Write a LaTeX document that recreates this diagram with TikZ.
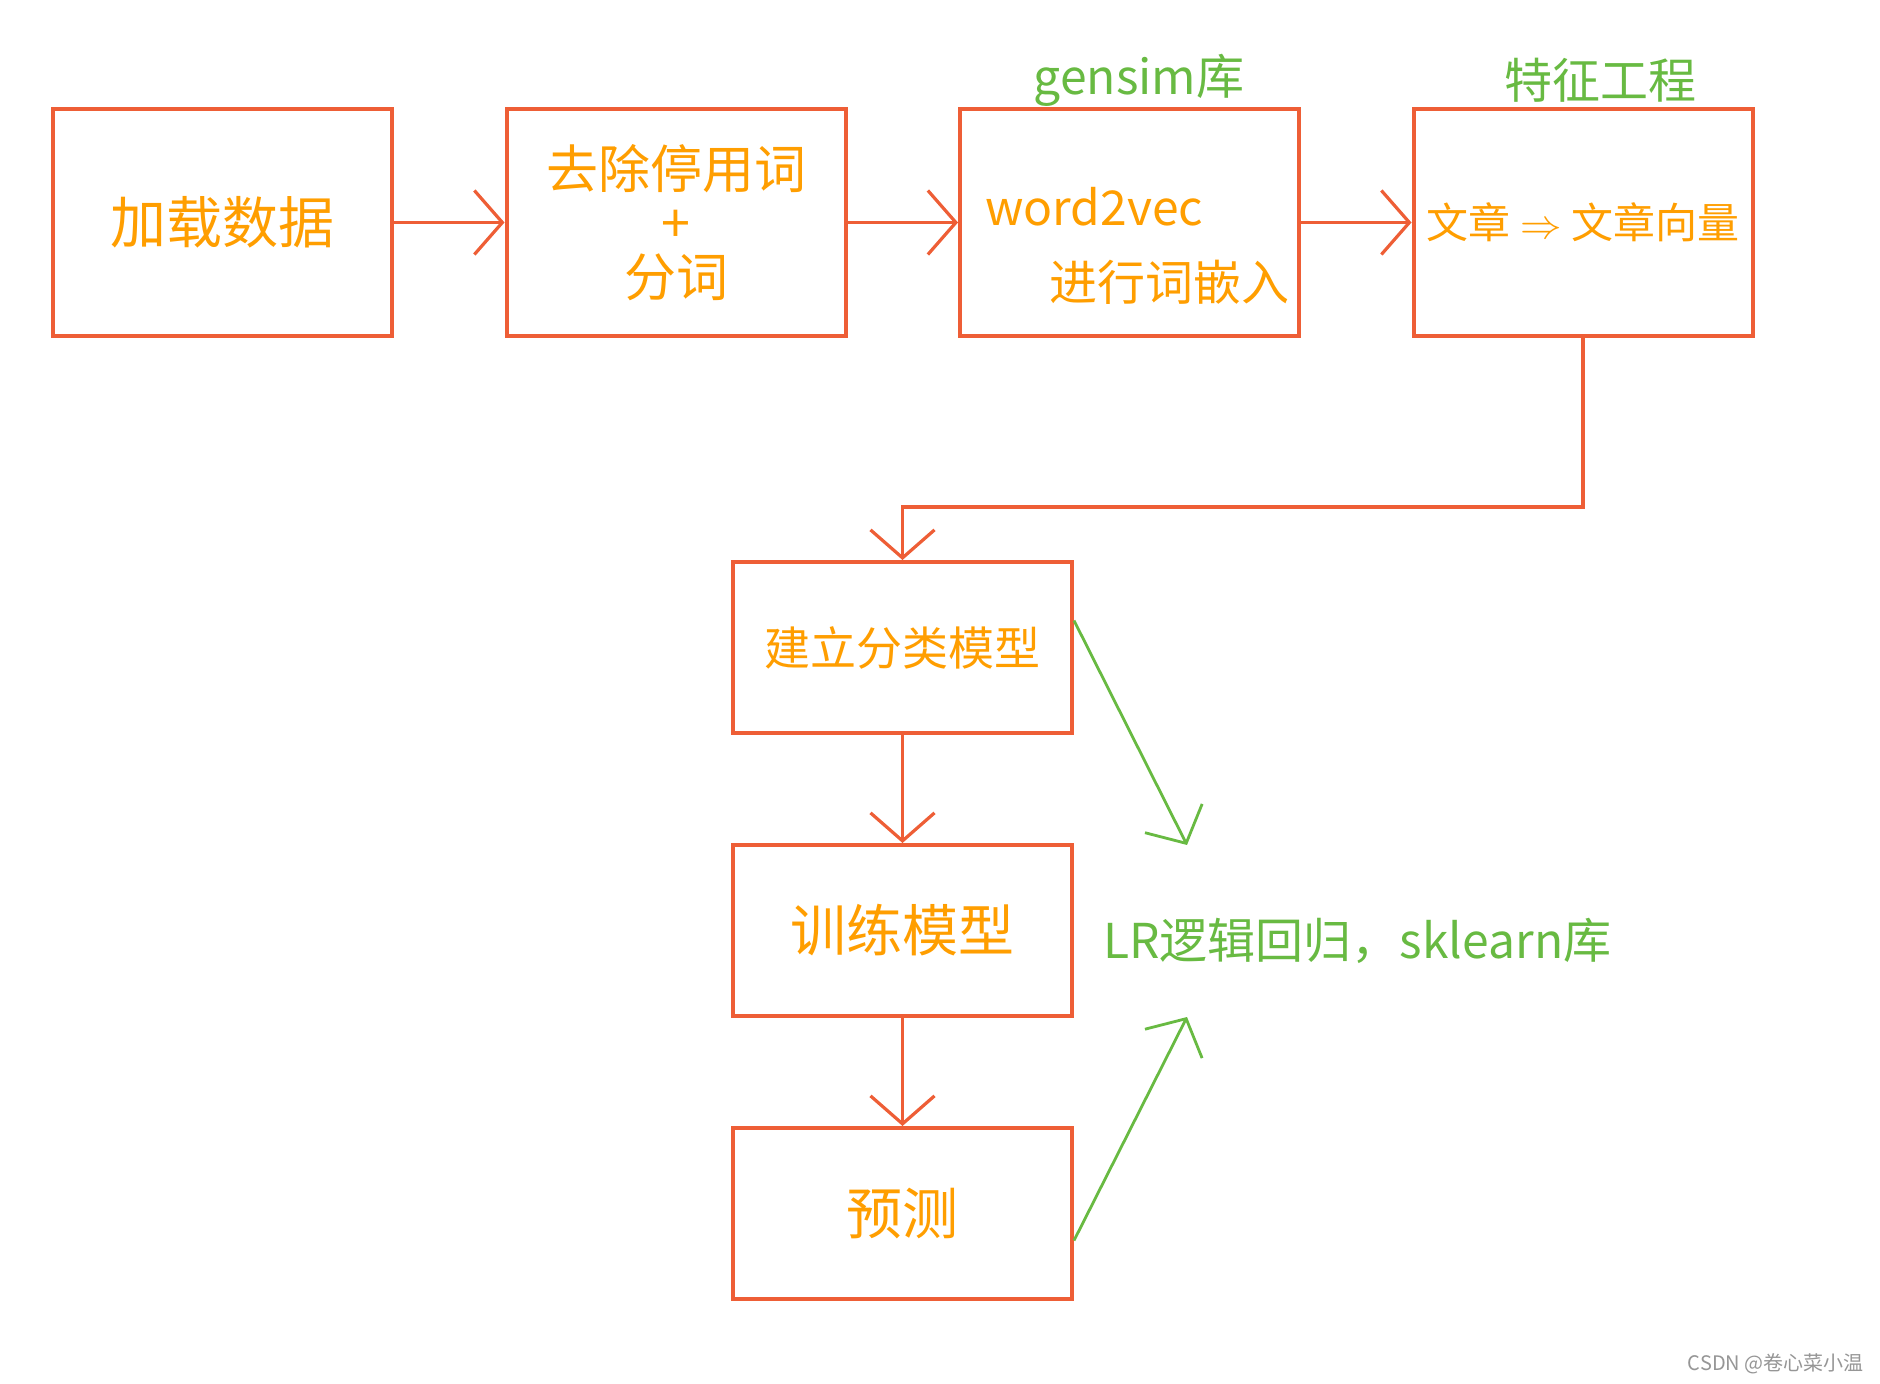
\documentclass[tikz,border=0pt]{standalone}
\usepackage{fontspec}
\newfontfamily\cjk{Noto Sans CJK SC}
\usetikzlibrary{arrows.meta, positioning, calc}
\definecolor{flowred}{RGB}{238, 94, 54}
\definecolor{flowtext}{RGB}{255, 158, 0}
\definecolor{flowgreen}{RGB}{104, 186, 66}
\definecolor{markgray}{RGB}{150, 150, 150}

\begin{document}
\begin{tikzpicture}[
    x=0.5pt, y=-0.5pt,
    topbox/.style={draw=flowred, line width=2pt, fill=white,
                   minimum width=169.5pt, minimum height=113.5pt,
                   inner sep=0pt, align=center, text=flowtext,
                   font=\cjk\fontsize{26}{27}\selectfont},
    lowbox/.style={topbox, minimum height=85.5pt},
    inbox/.style={text=flowtext, inner sep=0pt,
                  font=\cjk\fontsize{24}{28}\selectfont},
    note/.style={text=flowgreen, inner sep=0pt,
                 font=\cjk\fontsize{24}{28}\selectfont},
    arr/.style={-{Straight Barb[length=14pt, width=32pt]},
                draw=flowred, line width=1.6pt},
    garr/.style={-{Straight Barb[length=14pt, width=32pt]},
                 draw=flowgreen, line width=1.4pt},
  ]
    \fill[white] (0,0) rectangle (1880,1384);
    \useasboundingbox (0,0) rectangle (1880,1384);

    % Top row
    \node[topbox, font=\cjk\fontsize{28}{30}\selectfont] (load) at (222.5, 222.5) {加载数据};
    \node[topbox] (clean) at (676, 222.5) {去除停用词\\+\\分词};
    \node[topbox] (embed) at (1129.5, 222.5) {};
    \node[topbox, font=\cjk\fontsize{21}{24}\selectfont] (feat) at (1583, 222.5)
      {文章 $\Rightarrow$ 文章向量};
    \node[inbox, anchor=west] (w2v) at (985, 207) {word2vec};
    \node[inbox, anchor=east] (emb) at (1290, 282) {进行词嵌入};

    % Labels above
    \node[note] (gensim) at (1139, 80) {gensim库};
    \node[note] (fe) at (1600, 80) {特征工程};

    % Lower column
    \node[lowbox, font=\cjk\fontsize{23}{26}\selectfont] (cls) at (902.5, 647.5) {建立分类模型};
    \node[lowbox, font=\cjk\fontsize{28}{30}\selectfont] (train) at (902.5, 930.5) {训练模型};
    \node[lowbox, font=\cjk\fontsize{28}{30}\selectfont] (pred) at (902.5, 1213.5) {预测};

    \node[note, anchor=west] (lr) at (1103, 941) {LR逻辑回归，sklearn库};
    \coordinate (lrtop) at (1187, 845);
    \coordinate (lrbot) at (1187, 1017);

    \node[text=markgray, inner sep=0pt, anchor=east,
          font=\cjk\fontsize{10}{12}\selectfont] (mark) at (1864, 1364) {CSDN @卷心菜小温};

    \draw[arr] (load) -- (clean);
    \draw[arr] (clean) -- (embed);
    \draw[arr] (embed) -- (feat);
    \draw[arr] (feat.south) -- ++(0,169) -| (cls.north);
    \draw[arr] (cls) -- (train);
    \draw[arr] (train) -- (pred);
    \draw[garr] ($(cls.east)+(0,-27)$) -- (lrtop);
    \draw[garr] ($(pred.east)+(0,27)$) -- (lrbot);
  \end{tikzpicture}
\end{document}
